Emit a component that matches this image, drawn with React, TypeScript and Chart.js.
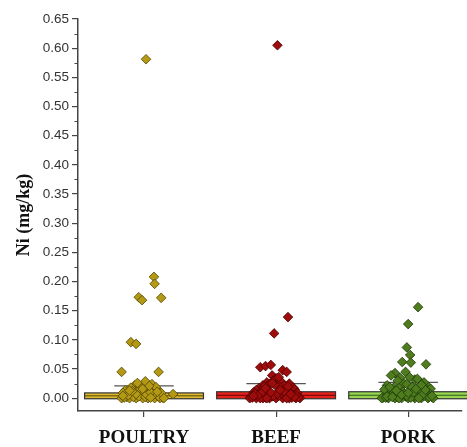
import React, { useEffect, useRef } from "react";
import { Chart, registerables } from "chart.js";
Chart.register(...registerables);

const categories = ["POULTRY", "BEEF", "PORK"];
const yTickValues = [0, 0.05, 0.1, 0.15, 0.2, 0.25, 0.3, 0.35, 0.4, 0.45, 0.5, 0.55, 0.6, 0.65];

const poultryNi = [
  0.581, 0.208, 0.196, 0.173, 0.168, 0.172, 0.096, 0.093, 0.045, 0.045,
  0.029, 0.022, 0.024, 0.014, 0.007, 0.018, 0.02, 0.017, 0.015, 0.01,
  0.012, 0.013, 0.011, 0.008, 0.009, 0.006, 0.005, 0.004, 0.003, 0.002,
  0.001, 0.0, 0.0, 0.0, 0.0, 0.0, 0.0, 0.0, 0.001, 0.002,
  0.003, 0.002, 0.004, 0.003, 0.005, 0.006, 0.007, 0.008, 0.01, 0.012,
  0.016, 0.019, 0.021, 0.026, 0.009, 0.001, 0.0, 0.004, 0.011, 0.013,
];
const poultryJitter = [
  0.015, 0.075, 0.08, -0.04, -0.015, 0.13, -0.1, -0.06, -0.17, 0.11,
  0.01, -0.07, 0.06, -0.14, 0.22, -0.1, -0.03, 0.03, 0.1, -0.12,
  0.0, 0.07, -0.05, 0.12, -0.16, -0.09, 0.04, -0.02, 0.09, -0.13,
  0.14, -0.17, -0.11, -0.06, -0.01, 0.03, 0.08, 0.12, -0.15, -0.08,
  -0.04, 0.01, 0.06, 0.11, -0.12, 0.02, -0.06, 0.08, 0.05, -0.09,
  -0.01, 0.09, 0.04, -0.05, 0.13, 0.05, 0.15, -0.16, 0.1, -0.11,
];

const beefNi = [
  0.605, 0.139, 0.111, 0.053, 0.055, 0.057, 0.048, 0.045,
  0.039, 0.034, 0.027, 0.025, 0.03, 0.028, 0.022, 0.018, 0.024, 0.036,
  0.021, 0.017, 0.012, 0.02, 0.016, 0.014, 0.019, 0.023, 0.015, 0.013,
  0.011, 0.01, 0.009, 0.008, 0.007, 0.006, 0.005, 0.004, 0.003, 0.002,
  0.001, 0.0, 0.0, 0.0, 0.0, 0.0, 0.0, 0.0, 0.0, 0.0,
  0.001, 0.002, 0.003, 0.004, 0.005, 0.006, 0.007, 0.008, 0.009, 0.01,
  0.0, 0.001, 0.002, 0.003, 0.004, 0.005, 0.006, 0.008, 0.01, 0.012,
  0.0, 0.0, 0.002, 0.004, 0.007, 0.011, 0.014, 0.017, 0.02, 0.026,
];
const beefJitter = [
  0.01, 0.09, -0.015, -0.12, -0.08, -0.04, 0.05, 0.08,
  -0.03, 0.0, -0.07, 0.1, -0.02, 0.04, -0.1, 0.13, -0.05, 0.02,
  0.06, -0.13, 0.11, -0.09, 0.08, -0.15, 0.03, -0.01, 0.14, -0.11,
  0.07, -0.17, 0.16, -0.06, 0.0, 0.12, -0.14, 0.05, -0.19, 0.09,
  -0.08, -0.2, -0.15, -0.1, -0.05, 0.0, 0.05, 0.1, 0.15, 0.18,
  -0.18, -0.12, -0.03, 0.02, 0.07, 0.13, -0.09, -0.16, 0.04, 0.1,
  -0.12, 0.12, 0.17, -0.06, -0.02, 0.15, -0.13, 0.01, -0.04, 0.06,
  -0.07, 0.08, 0.14, -0.17, 0.11, -0.1, 0.03, -0.08, 0.09, -0.03,
];

const porkNi = [
  0.156, 0.127, 0.087, 0.074, 0.062, 0.061, 0.058, 0.043, 0.045,
  0.039, 0.035, 0.03, 0.032, 0.028, 0.02, 0.025, 0.036, 0.022, 0.033,
  0.027, 0.018, 0.024, 0.016, 0.019, 0.014, 0.021, 0.017, 0.013, 0.015,
  0.012, 0.011, 0.01, 0.009, 0.008, 0.007, 0.006, 0.005, 0.004, 0.003,
  0.002, 0.001, 0.0, 0.0, 0.0, 0.0, 0.0, 0.0, 0.0, 0.0,
  0.0, 0.001, 0.002, 0.003, 0.004, 0.005, 0.006, 0.007, 0.008, 0.009,
  0.01, 0.0, 0.001, 0.002, 0.003, 0.004, 0.006, 0.008, 0.01, 0.012,
  0.014, 0.0, 0.002, 0.004, 0.006, 0.009, 0.013, 0.016, 0.019, 0.023,
];
const porkJitter = [
  0.075, 0.0, -0.01, 0.015, -0.045, 0.02, 0.135, -0.1, -0.02,
  -0.13, -0.06, -0.08, 0.05, 0.09, 0.15, -0.03, 0.01, -0.16, 0.07,
  0.12, -0.11, -0.01, 0.17, 0.03, -0.14, 0.11, -0.07, 0.06, -0.18,
  0.13, -0.04, 0.08, -0.12, 0.16, -0.09, 0.02, -0.15, 0.1, -0.02,
  0.18, -0.19, -0.2, -0.15, -0.1, -0.05, 0.0, 0.05, 0.1, 0.15,
  0.19, -0.17, -0.08, 0.04, 0.12, -0.13, 0.07, -0.03, 0.14, -0.11,
  0.09, -0.07, 0.02, 0.16, -0.16, -0.01, 0.11, -0.06, 0.04, -0.1,
  0.13, 0.08, -0.12, 0.18, -0.05, 0.0, -0.09, 0.06, -0.14, 0.1,
];

const boxQ1 = [-0.001, -0.001, -0.001];
const boxQ3 = [0.009, 0.011, 0.011];
const boxMedian = [0.004, 0.005, 0.005];
const whiskerTop = [0.021, 0.025, 0.027];

const boxFill = ["#dcb930", "#e6221d", "#96d452"];
const boxLine = ["#5a4a00", "#6a0000", "#2f5a10"];
const pointFill = ["#b49a14", "#9e0c0c", "#4e7c1e"];
const pointBorder = ["#4f4200", "#4a0000", "#1f3808"];

const BOX_HALF = 0.45;
const CAP_HALF = 0.225;

const boxPlugin = {
  id: "boxes",
  beforeDatasetsDraw(chart: any) {
    const { ctx, scales } = chart;
    const x = scales.x;
    const y = scales.y;
    ctx.save();
    for (let i = 0; i < categories.length; i++) {
      const c = i + 1;
      const l = x.getPixelForValue(c - BOX_HALF);
      const r = x.getPixelForValue(c + BOX_HALF);
      const t = y.getPixelForValue(boxQ3[i]);
      const b = y.getPixelForValue(boxQ1[i]);
      ctx.fillStyle = boxFill[i];
      ctx.fillRect(l, t, r - l, b - t);
      ctx.strokeStyle = "#333";
      ctx.lineWidth = 1.2;
      ctx.strokeRect(l, t, r - l, b - t);
      ctx.lineWidth = 1;
      ctx.strokeStyle = boxLine[i];
      const yy = y.getPixelForValue(boxMedian[i]);
      ctx.beginPath();
      ctx.moveTo(l, yy);
      ctx.lineTo(r, yy);
      ctx.stroke();
      const cy = y.getPixelForValue(whiskerTop[i]);
      const cx = x.getPixelForValue(c);
      ctx.strokeStyle = "#555";
      ctx.lineWidth = 1.2;
      ctx.beginPath();
      ctx.moveTo(cx, t);
      ctx.lineTo(cx, cy);
      ctx.moveTo(x.getPixelForValue(c - CAP_HALF), cy);
      ctx.lineTo(x.getPixelForValue(c + CAP_HALF), cy);
      ctx.stroke();
    }
    ctx.restore();
  },
  afterDraw(chart: any) {
    const { ctx, scales, chartArea } = chart;
    const y = scales.y;
    ctx.save();
    ctx.strokeStyle = "#444";
    ctx.lineWidth = 1;
    for (let k = 0; k < yTickValues.length - 1; k++) {
      const v = (yTickValues[k] + yTickValues[k + 1]) / 2;
      const yy = Math.round(y.getPixelForValue(v)) + 0.5;
      ctx.beginPath();
      ctx.moveTo(chartArea.left - 3.5, yy);
      ctx.lineTo(chartArea.left, yy);
      ctx.stroke();
    }
    ctx.restore();
  },
};

function makeSet(i: number, vals: number[], jit: number[]) {
  return {
    label: categories[i],
    data: vals.map((v, k) => ({ x: i + 1 + jit[k], y: v })),
    pointStyle: "rectRot",
    pointRadius: 4.8,
    pointBackgroundColor: pointFill[i],
    pointBorderColor: pointBorder[i],
    pointBorderWidth: 0.8,
    showLine: false,
  };
}

export default function App() {
  const ref = useRef<HTMLCanvasElement>(null);
  useEffect(() => {
    document.body.style.margin = "0";
    const chart = new Chart(ref.current as HTMLCanvasElement, {
      type: "scatter",
      data: {
        datasets: [
          makeSet(0, poultryNi, poultryJitter),
          makeSet(1, beefNi, beefJitter),
          makeSet(2, porkNi, porkJitter),
        ] as any,
      },
      options: {
        responsive: false,
        animation: false,
        events: [],
        layout: { padding: { top: 19, left: 0, right: 0, bottom: 0 } },
        plugins: { legend: { display: false }, tooltip: { enabled: false } },
        scales: {
          x: {
            type: "linear",
            min: 0.5,
            max: 3.403,
            afterBuildTicks: (s: any) => {
              s.ticks = [1, 2, 3].map((v) => ({ value: v }));
            },
            afterFit: (s: any) => {
              s.height = 36;
            },
            border: { display: true, color: "#444", width: 1.5 },
            grid: { display: true, drawOnChartArea: false, drawTicks: true, tickLength: 6, color: "#444", lineWidth: 1.2 },
            ticks: {
              autoSkip: false,
              maxRotation: 0,
              padding: 10,
              color: "#111",
              font: { family: "'Liberation Serif', 'Times New Roman', serif", size: 19, weight: "bold" },
              callback: (v: any) => categories[Math.round(v) - 1] ?? "",
            },
          },
          y: {
            type: "linear",
            min: -0.022,
            max: 0.65,
            afterBuildTicks: (s: any) => {
              s.ticks = yTickValues.map((v) => ({ value: v }));
            },
            afterFit: (s: any) => {
              s.width = 78;
            },
            border: { display: true, color: "#444", width: 1.5 },
            grid: { display: true, drawOnChartArea: false, drawTicks: true, tickLength: 6, color: "#444", lineWidth: 1.2 },
            ticks: {
              padding: 3,
              color: "#333",
              font: { family: "'Liberation Sans', Arial, sans-serif", size: 13.5 },
              callback: (v: any) => Number(v).toFixed(2),
            },
            title: {
              display: true,
              text: "Ni (mg/kg)",
              color: "#111",
              padding: { top: 14, bottom: 0 },
              font: { family: "'Liberation Serif', 'Times New Roman', serif", size: 18, weight: "bold" },
            },
          },
        },
      },
      plugins: [boxPlugin],
    });
    return () => chart.destroy();
  }, []);
  return (
    <div style={{ position: "absolute", left: 0, top: 0, width: 467, height: 447, background: "#fff" }}>
      <canvas ref={ref} width={467} height={447} style={{ display: "block" }} />
    </div>
  );
}
